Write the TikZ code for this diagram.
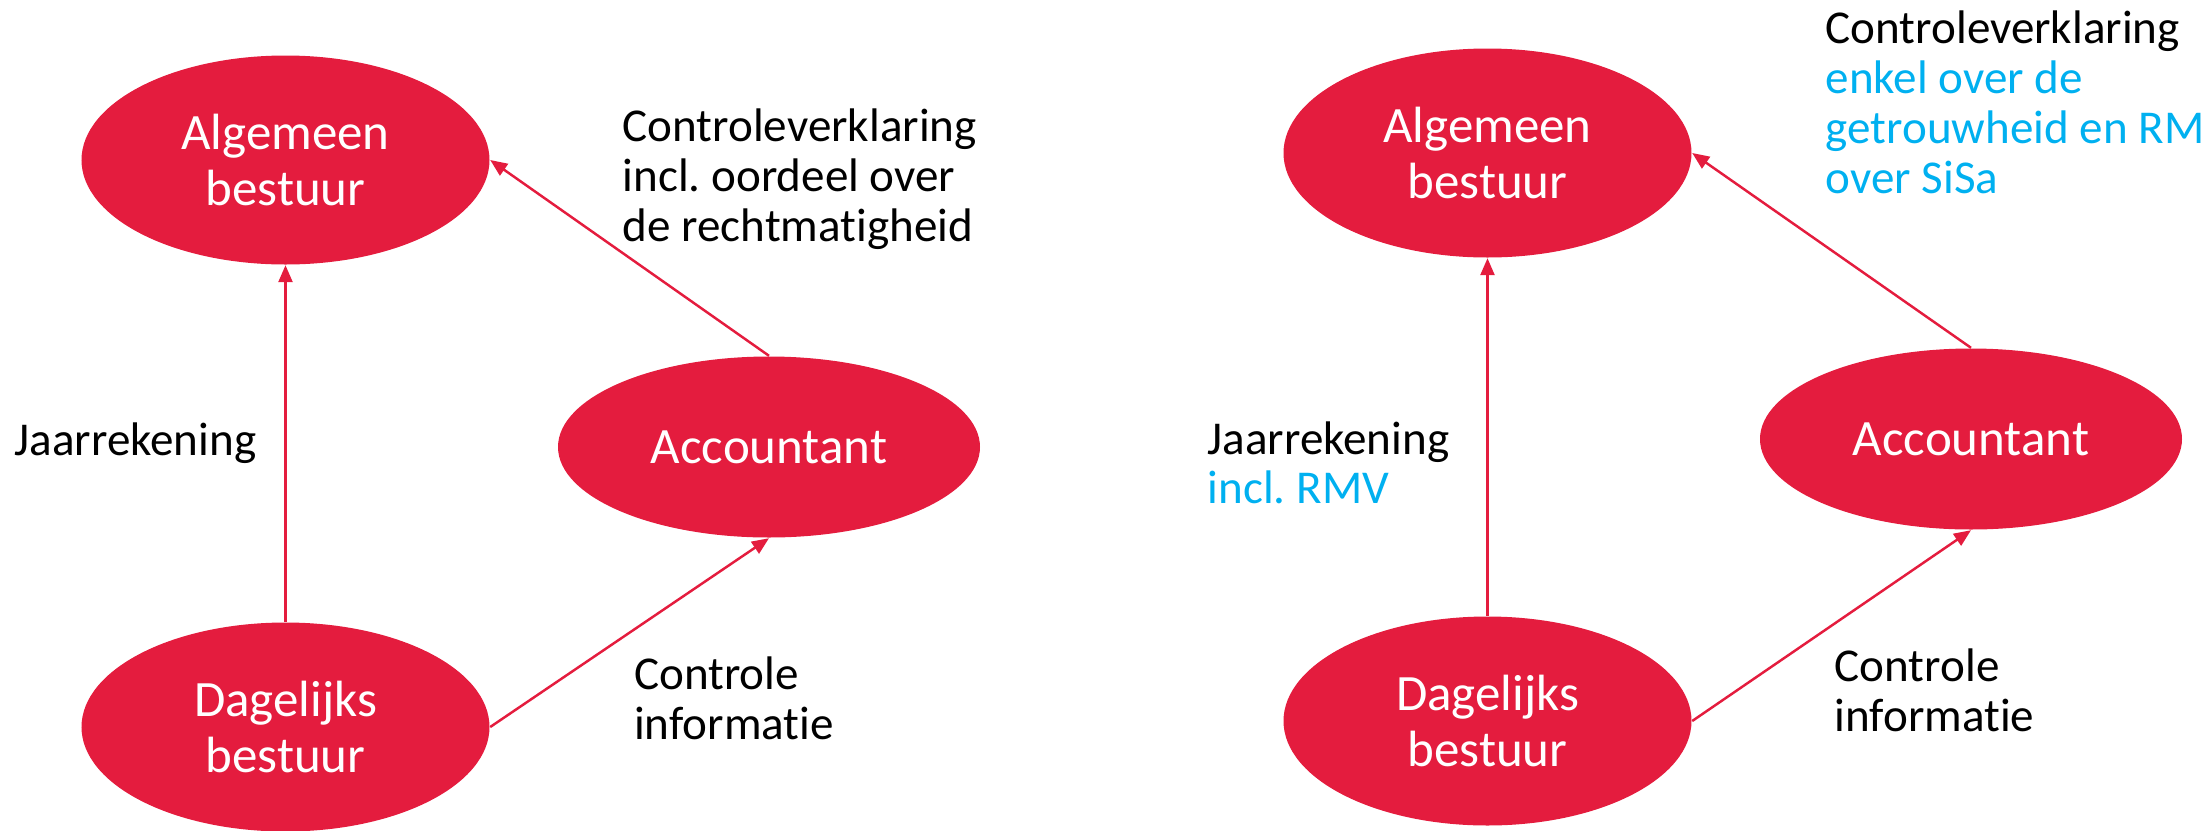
\documentclass[tikz,border=0pt]{standalone}
\usepackage{fontspec}
\setmainfont{Carlito}[Ligatures=NoCommon]
\frenchspacing
\usetikzlibrary{shapes.geometric,arrows.meta}
\definecolor{bestred}{HTML}{E41C3E}
\definecolor{rmblue}{HTML}{00B0F0}

\begin{document}
\begin{tikzpicture}[
  blob/.style={ellipse,fill=bestred,text=white,inner sep=0pt,align=center,
    minimum width=4.08cm,minimum height=2.09cm,font=\fontsize{14.5pt}{16.2pt}\selectfont},
  wide/.style={minimum width=4.22cm,minimum height=1.81cm},
  lbl/.style={anchor=north west,inner sep=0pt,align=left,font=\fontsize{13.4pt}{14.2pt}\selectfont},
  flow/.style={draw=bestred,line width=0.7pt,-{Triangle[length=0.17cm,width=0.14cm]}}]
\useasboundingbox (0,0) rectangle (22.07,8.30);

% left: old situation
\node [blob] (alg) at (2.855,6.70) {Algemeen\\bestuur};
\node [blob,wide] (acc) at (7.69,3.83) {Accountant};
\node [blob] (dag) at (2.855,1.03) {Dagelijks\\bestuur};
\draw [flow] (dag.north) -- (alg.south);
\draw [flow] (acc.north) -- (alg.east);
\draw [flow] (dag.east) -- (acc.south);
\node [lbl] (verkl) at (6.22,7.215) {Controleverklaring\\incl. oordeel over\\de rechtmatigheid};
\node [lbl] (jr) at (0.14,4.08) {Jaarrekening};
\node [lbl] (info) at (6.335,1.74) {Controle\\informatie};

% right: with RMV
\node [blob] (algR) at (14.875,6.77) {Algemeen\\bestuur};
\node [blob,wide] (accR) at (19.71,3.91) {Accountant};
\node [blob] (dagR) at (14.875,1.09) {Dagelijks\\bestuur};
\draw [flow] (dagR.north) -- (algR.south);
\draw [flow] (accR.north) -- (algR.east);
\draw [flow] (dagR.east) -- (accR.south);
\node [lbl] (verklR) at (18.25,8.196) {Controleverklaring\\\textcolor{rmblue}{enkel over de}\\\textcolor{rmblue}{getrouwheid en RM}\\\textcolor{rmblue}{over SiSa}};
\node [lbl] (jrR) at (12.07,4.094) {Jaarrekening\\\textcolor{rmblue}{incl. RMV}};
\node [lbl] (infoR) at (18.34,1.82) {Controle\\informatie};
\end{tikzpicture}
\end{document}
